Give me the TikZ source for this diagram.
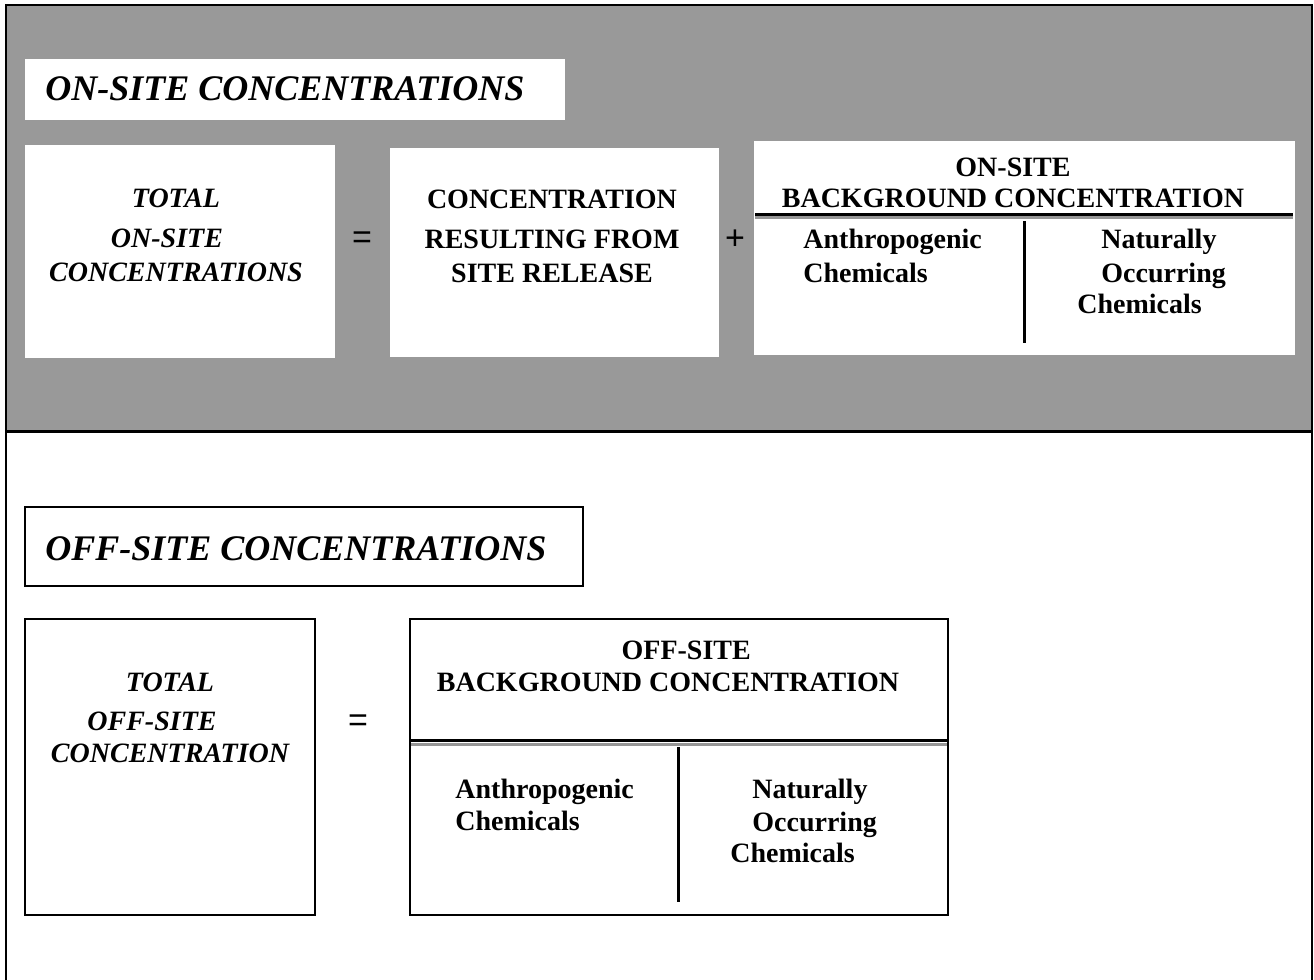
\documentclass[tikz,border=0pt]{standalone}
\usepackage{fontspec}
\setmainfont{Liberation Serif}
\newfontfamily\signfont{Liberation Sans}
\usetikzlibrary{positioning}
\definecolor{panelgray}{RGB}{153,153,153}
\definecolor{rulegray}{RGB}{150,150,150}

\begin{document}
\begin{tikzpicture}[x=0.5pt, y=-0.5pt,
  titletext/.style={font=\fontsize{18}{21}\selectfont\bfseries\itshape, inner sep=0pt, anchor=base west},
  bodytext/.style={font=\fontsize{14}{17}\selectfont\bfseries, inner sep=0pt, anchor=north, align=center},
  sidetext/.style={font=\fontsize{14}{17}\selectfont\bfseries, inner sep=0pt, anchor=north west, align=left},
  sign/.style={font=\fontsize{17}{20}\signfont, inner sep=0pt},
  linebox/.style={draw=black, line width=1.25pt, fill=white},
  heavy/.style={line width=1.5pt}]

\useasboundingbox (0,0) rectangle (1314,980);

% upper panel
\fill[panelgray] (6,5) rectangle (1312,431);
\draw[line width=1.1pt] (6,980) -- (6,5) -- (1312,5) -- (1312,980);
\draw[heavy] (6,431) -- (1312,431);

\begin{scope}[white]
\fill (25,59) rectangle (565,120);
\fill (25,145) rectangle (335,358);
\fill (390,148) rectangle (719,357);
\fill (754,141) rectangle (1295,355);
\end{scope}

\draw[heavy] (755,214) -- (1293,214);
\draw[rulegray, line width=1.2pt] (755,217.5) -- (1293,217.5);
\draw[heavy] (1024,221) -- (1024,343);

\node[titletext] (ontitle) at (45,100) {ON-SITE CONCENTRATIONS};
\node[bodytext, font=\fontsize{14}{17}\selectfont\bfseries\itshape] (ontotal) at (176,189)
  {TOTAL\\[3pt] ON-SITE\hspace{9pt}\mbox{}\\ CONCENTRATIONS};
\node[sign] (oneq) at (362,240) {=};
\node[bodytext] (onrelease) at (552,190)
  {CONCENTRATION\\[3pt] RESULTING FROM\\ SITE RELEASE};
\node[sign] (onplus) at (735,240) {+};
\node[bodytext] (onbackhead) at (1013,158)
  {ON-SITE\\[-1.5pt] BACKGROUND CONCENTRATION};
\node[sidetext] (onanthro) at (803,229) {Anthropogenic\\ Chemicals};
\node[sidetext] (onnatural) at (1077,229)
  {\hspace*{12pt}Naturally\\ \hspace*{12pt}Occurring\\[-1.5pt] Chemicals};

% lower panel
\draw[linebox] (25,507) rectangle (583,586);
\draw[linebox] (25,619) rectangle (315,915);
\draw[linebox] (410,619) rectangle (948,915);

\draw[heavy] (411,740) -- (947,740);
\draw[rulegray, line width=1.2pt] (411,744.5) -- (947,744.5);
\draw[heavy] (678,747) -- (678,902);

\node[titletext] (offtitle) at (45,560) {OFF-SITE CONCENTRATIONS};
\node[bodytext, font=\fontsize{14}{17}\selectfont\bfseries\itshape] (offtotal) at (170,673)
  {TOTAL\\[2.5pt] OFF-SITE\hspace{18pt}\mbox{}\\[-1pt] CONCENTRATION};
\node[sign] (offeq) at (358,723) {=};
\node[bodytext] (offbackhead) at (668,641)
  {\hspace*{1.3em}OFF-SITE\\[-1pt] BACKGROUND CONCENTRATION};
\node[sidetext] (offanthro) at (455,779) {Anthropogenic\\[-1pt] Chemicals};
\node[sidetext] (offnatural) at (730,779)
  {\hspace*{11pt}Naturally\\[-0.5pt] \hspace*{11pt}Occurring\\[-1.5pt] Chemicals};
\end{tikzpicture}
\end{document}
